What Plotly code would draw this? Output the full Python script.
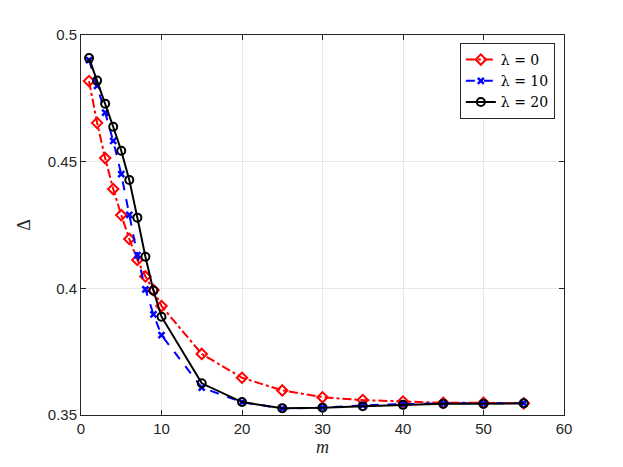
import plotly.graph_objects as go

m = [1, 2, 3, 4, 5, 6, 7, 8, 9, 10, 15, 20, 25, 30, 35, 40, 45, 50, 55]
d_l0 = [0.4818, 0.4653, 0.4514, 0.4392, 0.4289, 0.4195, 0.4112, 0.4047, 0.3993, 0.3930,
        0.3741, 0.3647, 0.3597, 0.3570, 0.3559, 0.3553, 0.3548, 0.3548, 0.3546]
d_l10 = [0.4901, 0.4799, 0.4694, 0.4582, 0.4451, 0.4290, 0.4131, 0.3996, 0.3897, 0.3815,
         0.3608, 0.3551, 0.3525, 0.3529, 0.3538, 0.3543, 0.3546, 0.3546, 0.3547]
d_l20 = [0.4909, 0.4820, 0.4729, 0.4638, 0.4543, 0.4428, 0.4279, 0.4125, 0.3991, 0.3888,
         0.3625, 0.3551, 0.3527, 0.3529, 0.3535, 0.3540, 0.3544, 0.3544, 0.3546]
names = ["λ = 0", "λ = 10", "λ = 20"]

fig = go.Figure()
fig.add_trace(go.Scatter(x=m, y=d_l0, name=names[0], mode="lines+markers",
                         line=dict(color="#ff0000", width=2, dash="dashdot"),
                         marker=dict(symbol="diamond-open", size=8, color="#ff0000", line=dict(width=2))))
fig.add_trace(go.Scatter(x=m, y=d_l10, name=names[1], mode="lines+markers",
                         line=dict(color="#0000ff", width=2, dash="dash"),
                         marker=dict(symbol="x-thin-open", size=6, color="#0000ff", line=dict(width=2.5, color="#0000ff"))))
fig.add_trace(go.Scatter(x=m, y=d_l20, name=names[2], mode="lines+markers",
                         line=dict(color="#000000", width=2),
                         marker=dict(symbol="circle-open", size=8, color="#000000", line=dict(width=2))))

axis_common = dict(showline=True, linecolor="#262626", linewidth=1, mirror="ticks",
                   ticks="inside", ticklen=5, tickcolor="#262626",
                   showgrid=True, gridcolor="#e8e8e8", gridwidth=1, zeroline=False,
                   tickfont=dict(family="Liberation Sans, Arial", size=15, color="#262626"))

fig.update_layout(
    width=623, height=467,
    margin=dict(l=73, r=67, t=27, b=60),
    paper_bgcolor="white", plot_bgcolor="white",
    xaxis=dict(range=[0, 60], tickvals=[0, 10, 20, 30, 40, 50, 60],
               title=dict(text="<i>m</i>", font=dict(family="Liberation Serif", size=18, color="#262626"), standoff=0),
               **axis_common),
    yaxis=dict(range=[0.35, 0.5], tickvals=[0.35, 0.4, 0.45, 0.5], ticktext=["0.35", "0.4", "0.45", "0.5"],
               title=dict(text="Δ", font=dict(family="Liberation Serif", size=18, color="#262626"), standoff=12),
               **axis_common),
    legend=dict(x=0.981, y=0.979, xanchor="right", yanchor="top",
                bgcolor="white", bordercolor="#262626", borderwidth=1,
                font=dict(family="DejaVu Serif", size=14, color="#000000"),
                tracegroupgap=0, itemwidth=30),
    showlegend=True,
)

fig.write_html("out.html")
